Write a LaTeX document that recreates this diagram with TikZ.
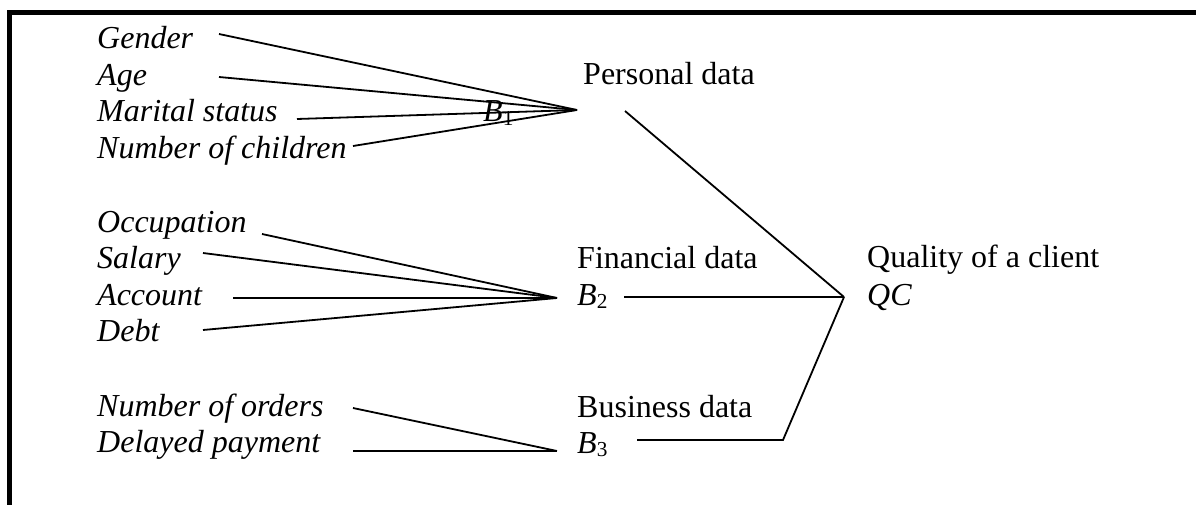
\documentclass[tikz,border=0pt]{standalone}
\usepackage{fontspec}
\setmainfont{Liberation Serif}
\newcommand{\lowidx}[1]{\raisebox{-0.25ex}{\upshape\fontsize{21.3pt}{22pt}\selectfont #1}}
\begin{document}
\begin{tikzpicture}[x=1pt,y=-1pt,
  lbl/.style={anchor=base west,inner sep=0pt,font=\fontsize{32pt}{36.8pt}\selectfont},
  var/.style={anchor=base west,inner sep=0pt,font=\fontsize{32pt}{36.8pt}\selectfont\itshape},
  conn/.style={line width=1.8pt,line join=miter}]
\useasboundingbox (0,0) rectangle (1196,505);
\draw[line width=5pt] (9.8,505) -- (9.8,12.5) -- (1196,12.5);

% input variables
\node[var] (gender) at (97,49) {Gender};
\node[var] (age) at (97,85.5) {Age};
\node[var] (marital) at (97,122) {Marital status};
\node[var] (children) at (97,158.5) {Number of children};

\node[var] (occupation) at (97,232) {Occupation};
\node[var] (salary) at (97,268.5) {Salary};
\node[var] (account) at (97,305) {Account};
\node[var] (debt) at (97,341.5) {Debt};

\node[var] (orders) at (97,416) {Number of orders};
\node[var] (delayed) at (97,452.5) {Delayed payment};

% intermediate nodes
\node[lbl] (personal) at (583,85) {Personal data};
\node[var] (b1) at (483,122) {B\lowidx{1}};
\node[lbl] (financial) at (577,268) {Financial data};
\node[var] (b2) at (577,305) {B\lowidx{2}};
\node[lbl] (business) at (577,417) {Business data};
\node[var] (b3) at (577,453) {B\lowidx{3}};
\node[lbl] (quality) at (867,267) {Quality of a client};
\node[var] (qc) at (867,305) {QC};

% connector points
\coordinate (j1) at (577,110);
\coordinate (j2) at (557,298);
\coordinate (j3) at (557,451);
\coordinate (jq) at (844,297);
\coordinate (g0) at (219,34);
\coordinate (a0) at (219,77);
\coordinate (m0) at (297,119);
\coordinate (c0) at (353,146);
\coordinate (o0) at (262,234);
\coordinate (s0) at (203,253);
\coordinate (ac0) at (233,298);
\coordinate (d0) at (203,330);
\coordinate (no0) at (353,408);
\coordinate (dp0) at (353,451);
\coordinate (p0) at (625,111);
\coordinate (b20) at (624,297);
\coordinate (b30) at (637,440);
\coordinate (bend) at (783,440);

\draw[conn] (g0) -- (j1);
\draw[conn] (a0) -- (j1);
\draw[conn] (m0) -- (j1);
\draw[conn] (c0) -- (j1);
\draw[conn] (o0) -- (j2);
\draw[conn] (s0) -- (j2);
\draw[conn] (ac0) -- (j2);
\draw[conn] (d0) -- (j2);
\draw[conn] (no0) -- (j3);
\draw[conn] (dp0) -- (j3);
\draw[conn] (p0) -- (jq);
\draw[conn] (b20) -- (jq);
\draw[conn] (b30) -- (bend) -- (jq);
\end{tikzpicture}
\end{document}
